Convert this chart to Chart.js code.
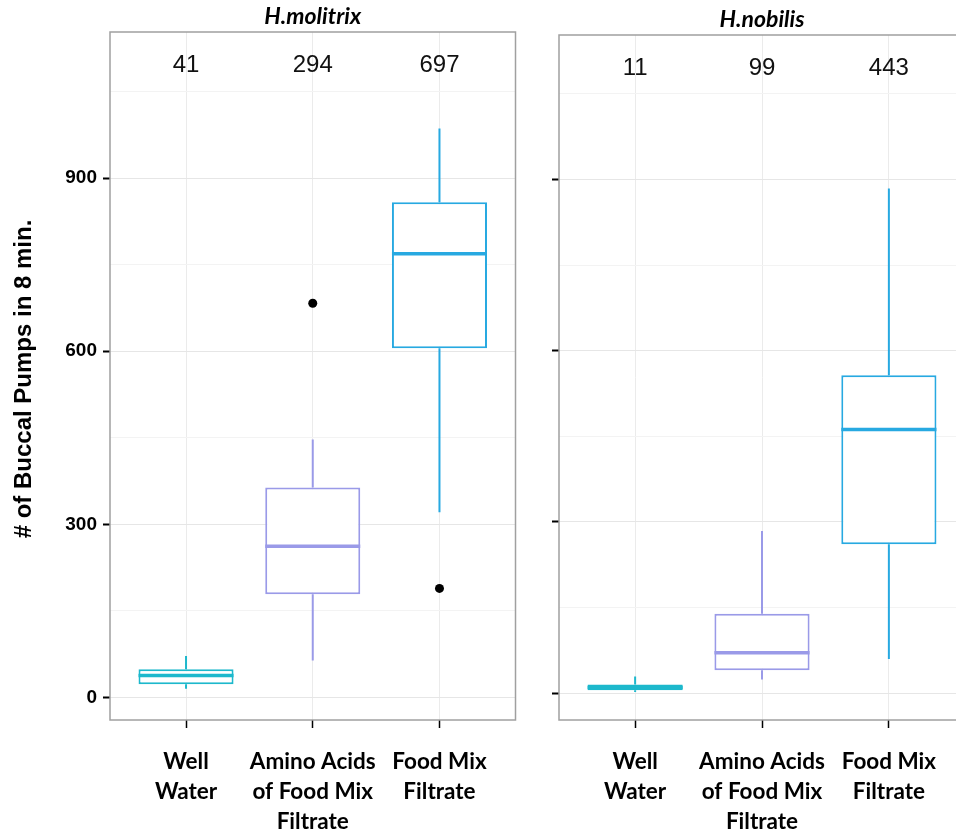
<!DOCTYPE html>
<html>
<head>
<meta charset="utf-8">
<script src="https://cdn.jsdelivr.net/npm/chart.js@4.4.1/dist/chart.umd.min.js"></script>
<style>
  html, body { margin: 0; padding: 0; background: #fff; overflow: hidden; }
  #wrap { position: relative; width: 956px; height: 839px; overflow: hidden; }
  canvas { position: absolute; top: 0; }
</style>
</head>
<body>
<div id="wrap">
  <canvas id="leftChart" width="520" height="839" style="left:0"></canvas>
  <canvas id="rightChart" width="450" height="839" style="left:520px"></canvas>
</div>
<script>
const categories = [['Well', 'Water'], ['Amino Acids', 'of Food Mix', 'Filtrate'], ['Food Mix', 'Filtrate']];
const boxColors = ['#1db8cc', '#9a9ae8', '#27a9e1'];
const yTicks = [0, 150, 300, 450, 600, 750, 900, 1050];
const yLabelled = [0, 300, 600, 900];

// H.molitrix
const molitrixMin = [15, 64, 321];
const molitrixQ1 = [23, 179, 605];
const molitrixMedian = [38, 262, 769];
const molitrixQ3 = [49, 364, 858];
const molitrixMax = [72, 447, 986];
const molitrixOutliers = [[], [683], [189]];
const molitrixCounts = [41, 294, 697];

// H.nobilis
const nobilisMin = [2, 24, 60];
const nobilisQ1 = [5, 40, 261];
const nobilisMedian = [10, 71, 462];
const nobilisQ3 = [15, 139, 557];
const nobilisMax = [29, 284, 884];
const nobilisOutliers = [[], [], []];
const nobilisCounts = [11, 99, 443];

const COUNT_Y = 1095;

const boxPlugin = {
  id: 'boxParts',
  afterDatasetsDraw(chart) {
    const o = chart.options.plugins.boxParts;
    const meta = chart.getDatasetMeta(0);
    const y = chart.scales.y;
    const ctx = chart.ctx;
    ctx.save();
    meta.data.forEach((el, i) => {
      ctx.strokeStyle = boxColors[i];
      ctx.lineWidth = 2;
      ctx.beginPath();
      ctx.moveTo(el.x, y.getPixelForValue(o.q3[i]));
      ctx.lineTo(el.x, y.getPixelForValue(o.max[i]));
      ctx.moveTo(el.x, y.getPixelForValue(o.q1[i]));
      ctx.lineTo(el.x, y.getPixelForValue(o.min[i]));
      ctx.stroke();
      ctx.lineWidth = 3.5;
      ctx.beginPath();
      const my = y.getPixelForValue(o.median[i]);
      ctx.moveTo(el.x - el.width / 2, my);
      ctx.lineTo(el.x + el.width / 2, my);
      ctx.stroke();
    });
    // counts
    ctx.fillStyle = '#111';
    ctx.font = '24px "Liberation Sans", Arial, sans-serif';
    ctx.textAlign = 'center';
    ctx.textBaseline = 'middle';
    o.counts.forEach((c, i) => {
      ctx.fillText(String(c), chart.scales.x.getPixelForValue(i), y.getPixelForValue(COUNT_Y));
    });
    ctx.restore();
  },
  afterDraw(chart) {
    const o = chart.options.plugins.boxParts;
    const a = chart.chartArea;
    const ctx = chart.ctx;
    ctx.save();
    ctx.strokeStyle = '#a0a0a0';
    ctx.lineWidth = 1.5;
    ctx.strokeRect(a.left, a.top, a.right - a.left, a.bottom - a.top);
    ctx.fillStyle = '#000';
    ctx.font = 'italic bold 23px Lato, sans-serif';
    ctx.textAlign = 'center';
    ctx.textBaseline = 'middle';
    ctx.fillText(o.strip, (a.left + a.right) / 2, a.top - 15);
    if (o.yTitle) {
      ctx.translate(24, (a.top + a.bottom) / 2 + 3);
      ctx.rotate(-Math.PI / 2);
      ctx.font = 'bold 24px "Liberation Sans", Arial, sans-serif';
      ctx.fillText(o.yTitle, 0, 0);
    }
    ctx.restore();
  }
};

function makePanel(canvas, s) {
  const outlierPts = [];
  s.outliers.forEach((list, i) => list.forEach(v => outlierPts.push({ x: i, y: v })));
  return new Chart(canvas, {
    type: 'bar',
    data: {
      datasets: [
        {
          data: categories.map((c, i) => ({ x: i, y: [s.q1[i], s.q3[i]] })),
          backgroundColor: 'rgba(255,255,255,1)',
          borderColor: boxColors,
          borderWidth: 2,
          borderSkipped: false,
          barPercentage: 1,
          categoryPercentage: 0.75
        },
        {
          type: 'scatter',
          data: outlierPts,
          pointRadius: 4.5,
          backgroundColor: '#000',
          borderWidth: 0
        }
      ]
    },
    options: {
      responsive: false,
      animation: false,
      layout: { padding: { top: s.top, right: s.padRight, left: 0, bottom: 0 } },
      plugins: {
        legend: { display: false },
        tooltip: { enabled: false },
        boxParts: { q1: s.q1, q3: s.q3, median: s.median, min: s.min, max: s.max, counts: s.counts, strip: s.strip, yTitle: s.yTitle }
      },
      scales: {
        x: {
          type: 'linear',
          min: -0.6,
          max: 2.6,
          offset: false,
          afterBuildTicks: sc => { sc.ticks = categories.map((c, i) => ({ value: i })); },
          afterFit: sc => { sc.height = 119; },
          border: { display: false },
          grid: { offset: false, color: '#ebebeb', lineWidth: 1, tickColor: '#000', tickLength: 8, tickWidth: 1.5 },
          ticks: {
            callback: v => categories[v],
            color: '#000',
            font: { family: 'Lato, sans-serif', weight: 'bold', size: 22.5, lineHeight: 1.33 },
            padding: 19,
            maxRotation: 0,
            autoSkip: false
          }
        },
        y: {
          min: s.yMin,
          max: 1153,
          afterBuildTicks: sc => { sc.ticks = yTicks.map(v => ({ value: v })); },
          afterFit: sc => { sc.width = s.axisWidth; },
          border: { display: false },
          grid: {
            color: c => yLabelled.includes(c.tick.value) ? '#e6e6e6' : '#f3f3f3',
            tickColor: c => yLabelled.includes(c.tick.value) ? '#000' : 'rgba(0,0,0,0)',
            tickLength: 7,
            tickWidth: 2
          },
          ticks: {
            callback: v => (s.showLabels && yLabelled.includes(v)) ? String(v) : '',
            color: '#000',
            font: { family: '"Liberation Sans", Arial, sans-serif', weight: 'bold', size: 19 },
            padding: 6,
            autoSkip: false
          }
        }
      }
    },
    plugins: [boxPlugin]
  });
}

makePanel(document.getElementById('leftChart'), {
  q1: molitrixQ1, q3: molitrixQ3, median: molitrixMedian, min: molitrixMin, max: molitrixMax,
  outliers: molitrixOutliers, counts: molitrixCounts, strip: 'H.molitrix', yTitle: '# of Buccal Pumps in 8 min.',
  top: 32, padRight: 4, axisWidth: 110, yMin: -39, showLabels: true
});
makePanel(document.getElementById('rightChart'), {
  q1: nobilisQ1, q3: nobilisQ3, median: nobilisMedian, min: nobilisMin, max: nobilisMax,
  outliers: nobilisOutliers, counts: nobilisCounts, strip: 'H.nobilis', yTitle: null,
  top: 35, padRight: 5, axisWidth: 39, yMin: -47, showLabels: false
});
</script>
</body>
</html>
